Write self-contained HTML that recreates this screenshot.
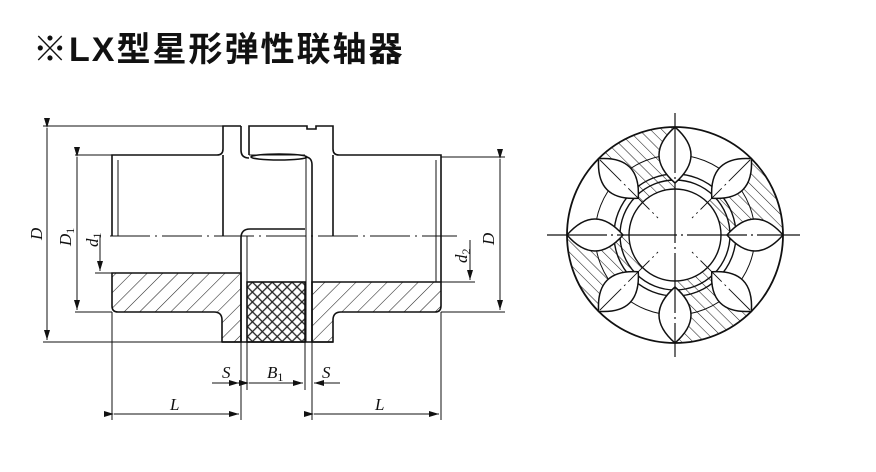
<!DOCTYPE html>
<html><head><meta charset="utf-8"><style>
html,body{margin:0;padding:0;background:#fff;}
body{width:876px;height:472px;overflow:hidden;position:relative;}
.t{position:absolute;left:33px;top:22px;font:bold 34px "Liberation Sans","Noto Sans CJK SC",sans-serif;color:#111;letter-spacing:2px;white-space:nowrap;}
svg{position:absolute;left:0;top:0;}
.l{font-family:"Liberation Serif",serif;font-style:italic;font-size:17px;fill:#111;}
</style></head><body>
<div class="t">※LX型星形弹性联轴器</div>
<svg width="876" height="472" viewBox="0 0 876 472">
<defs>
<pattern id="h1" width="11" height="11" patternUnits="userSpaceOnUse" patternTransform="rotate(45)">
<line x1="0" y1="0" x2="0" y2="11" stroke="#222" stroke-width="1.1"/></pattern>
<pattern id="h2" width="8" height="8" patternUnits="userSpaceOnUse" patternTransform="rotate(-45)">
<line x1="0" y1="0" x2="0" y2="8" stroke="#222" stroke-width="1.1"/></pattern>
<pattern id="x1" width="7" height="7" patternUnits="userSpaceOnUse" patternTransform="rotate(45)">
<rect width="7" height="7" fill="none" stroke="#222" stroke-width="1.3"/></pattern>
<marker id="a" viewBox="0 0 10 6" refX="10" refY="3" markerWidth="10" markerHeight="6" orient="auto" markerUnits="userSpaceOnUse"><path d="M0,0L10,3L0,6z" fill="#111"/></marker>
<clipPath id="ann"><path fill-rule="evenodd" d="M675,127a108,108 0 1,0 0.01,0zM675,173a62,62 0 1,0 0.01,0z"/></clipPath>
</defs>
<g fill="none" stroke="#111" stroke-width="1">
<line x1="43" y1="126" x2="223" y2="126"/>
<line x1="43" y1="342" x2="223" y2="342"/>
<line x1="75" y1="155" x2="112" y2="155"/>
<line x1="75" y1="312" x2="112" y2="312"/>
<line x1="95" y1="273" x2="112" y2="273"/>
<line x1="441" y1="157" x2="505" y2="157"/>
<line x1="441" y1="312" x2="505" y2="312"/>
<line x1="441" y1="282" x2="475" y2="282"/>
<line x1="47" y1="128" x2="47" y2="340" marker-start="url(#a)" marker-end="url(#a)"/>
<line x1="77" y1="157" x2="77" y2="310" marker-start="url(#a)" marker-end="url(#a)"/>
<line x1="100" y1="236" x2="100" y2="271" marker-end="url(#a)"/>
<line x1="470" y1="240" x2="470" y2="280" marker-end="url(#a)"/>
<line x1="500" y1="159" x2="500" y2="310" marker-start="url(#a)" marker-end="url(#a)"/>
<line x1="112" y1="312" x2="112" y2="420"/>
<line x1="241" y1="342" x2="241" y2="420"/>
<line x1="247" y1="342" x2="247" y2="390"/>
<line x1="305" y1="342" x2="305" y2="390"/>
<line x1="312" y1="342" x2="312" y2="420"/>
<line x1="441" y1="312" x2="441" y2="420"/>
<line x1="212" y1="383" x2="239" y2="383" marker-end="url(#a)"/>
<line x1="249" y1="383" x2="303" y2="383" marker-start="url(#a)" marker-end="url(#a)"/>
<line x1="340" y1="383" x2="314" y2="383" marker-end="url(#a)"/>
<line x1="114" y1="414" x2="239" y2="414" marker-start="url(#a)" marker-end="url(#a)"/>
<line x1="314" y1="414" x2="439" y2="414" marker-start="url(#a)" marker-end="url(#a)"/>
<line x1="110" y1="236" x2="457" y2="236" stroke-dasharray="40,5,2,5"/>
</g>
<path d="M112,273H241V342H222V320Q222,312 214,312H118Q112,312 112,306Z" fill="url(#h1)" stroke="#111" stroke-width="1.6"/>
<path d="M312,282H441V306Q441,312 435,312H341Q333,312 333,320V342H312Z" fill="url(#h1)" stroke="#111" stroke-width="1.6"/>
<rect x="247" y="282" width="58" height="60" fill="url(#x1)" stroke="#111" stroke-width="1.6"/>
<g fill="none" stroke="#111" stroke-width="1.6">
<path d="M241,126H223V149Q223,155 217,155H112V236"/>
<line x1="118" y1="160" x2="118" y2="236" stroke-width="1"/>
<path d="M241,126V150Q241,158 249,158"/>
<line x1="223" y1="155" x2="223" y2="236"/>
<path d="M249,155V126H307V129H316V126H333V149Q333,155 339,155H441V282"/>
<line x1="436" y1="160" x2="436" y2="282" stroke-width="1"/>
<line x1="333" y1="155" x2="333" y2="236"/>
<line x1="249" y1="155" x2="305" y2="155" stroke-width="1"/>
<ellipse cx="279" cy="157" rx="28" ry="3"/>
<path d="M305,157Q312,157 312,165V342"/>
<line x1="306" y1="157" x2="306" y2="342" stroke-width="1"/>
<path d="M241,342V238Q241,229 250,229H305"/>
<line x1="247" y1="236" x2="247" y2="342" stroke-width="1"/>
<line x1="222" y1="342" x2="333" y2="342"/>
</g>
<text class="l" x="222" y="378">S</text>
<text class="l" x="267" y="378">B<tspan font-size="12" font-style="normal" dy="3">1</tspan></text>
<text class="l" x="322" y="378">S</text>
<text class="l" x="170" y="410">L</text>
<text class="l" x="375" y="410">L</text>
<text class="l" transform="translate(42,240) rotate(-90)">D</text>
<text class="l" transform="translate(71,246) rotate(-90)">D<tspan font-size="12" font-style="normal" dy="3">1</tspan></text>
<text class="l" transform="translate(98,247) rotate(-90)">d<tspan font-size="12" font-style="normal" dy="3">1</tspan></text>
<text class="l" transform="translate(467,263) rotate(-90)">d<tspan font-size="12" font-style="normal" dy="3">2</tspan></text>
<text class="l" transform="translate(494,245) rotate(-90)">D</text>

<g clip-path="url(#ann)">
<path d="M675,235L555,115L675,115Z" fill="url(#h2)"/>
<path d="M675,235L795,235L795,115Z" fill="url(#h2)"/>
<path d="M675,235L555,235L555,355Z" fill="url(#h2)"/>
<path d="M675,235L675,355L795,355Z" fill="url(#h2)"/>
</g>
<g fill="none" stroke="#111">
<circle cx="675" cy="235" r="108" stroke-width="1.8"/>
<circle cx="675" cy="235" r="80" stroke-width="1"/>
<circle cx="675" cy="235" r="55" stroke-width="1.4"/>
<circle cx="675" cy="235" r="61" stroke-width="1.4"/>
<g fill="#fff" stroke-width="1.5">
<path transform="translate(675,235) rotate(0)" d="M52,0Q80,-32 108,0Q80,32 52,0Z"/>
<path transform="translate(675,235) rotate(45)" d="M52,0Q80,-32 108,0Q80,32 52,0Z"/>
<path transform="translate(675,235) rotate(90)" d="M52,0Q80,-32 108,0Q80,32 52,0Z"/>
<path transform="translate(675,235) rotate(135)" d="M52,0Q80,-32 108,0Q80,32 52,0Z"/>
<path transform="translate(675,235) rotate(180)" d="M52,0Q80,-32 108,0Q80,32 52,0Z"/>
<path transform="translate(675,235) rotate(225)" d="M52,0Q80,-32 108,0Q80,32 52,0Z"/>
<path transform="translate(675,235) rotate(270)" d="M52,0Q80,-32 108,0Q80,32 52,0Z"/>
<path transform="translate(675,235) rotate(315)" d="M52,0Q80,-32 108,0Q80,32 52,0Z"/>
</g>
<circle cx="675" cy="235" r="46" fill="#fff" stroke-width="1.4"/>
<line x1="547" y1="235" x2="800" y2="235" stroke-width="1.2" stroke-dasharray="60,4,2,4"/>
<line x1="675" y1="113" x2="675" y2="357" stroke-width="1.2" stroke-dasharray="60,4,2,4"/>
<line x1="600" y1="160" x2="658" y2="218" stroke-width="0.9" stroke-dasharray="30,4,2,4"/>
<line x1="750" y1="160" x2="692" y2="218" stroke-width="0.9" stroke-dasharray="30,4,2,4"/>
<line x1="600" y1="310" x2="658" y2="252" stroke-width="0.9" stroke-dasharray="30,4,2,4"/>
<line x1="750" y1="310" x2="692" y2="252" stroke-width="0.9" stroke-dasharray="30,4,2,4"/>
</g>
</svg>
</body></html>
